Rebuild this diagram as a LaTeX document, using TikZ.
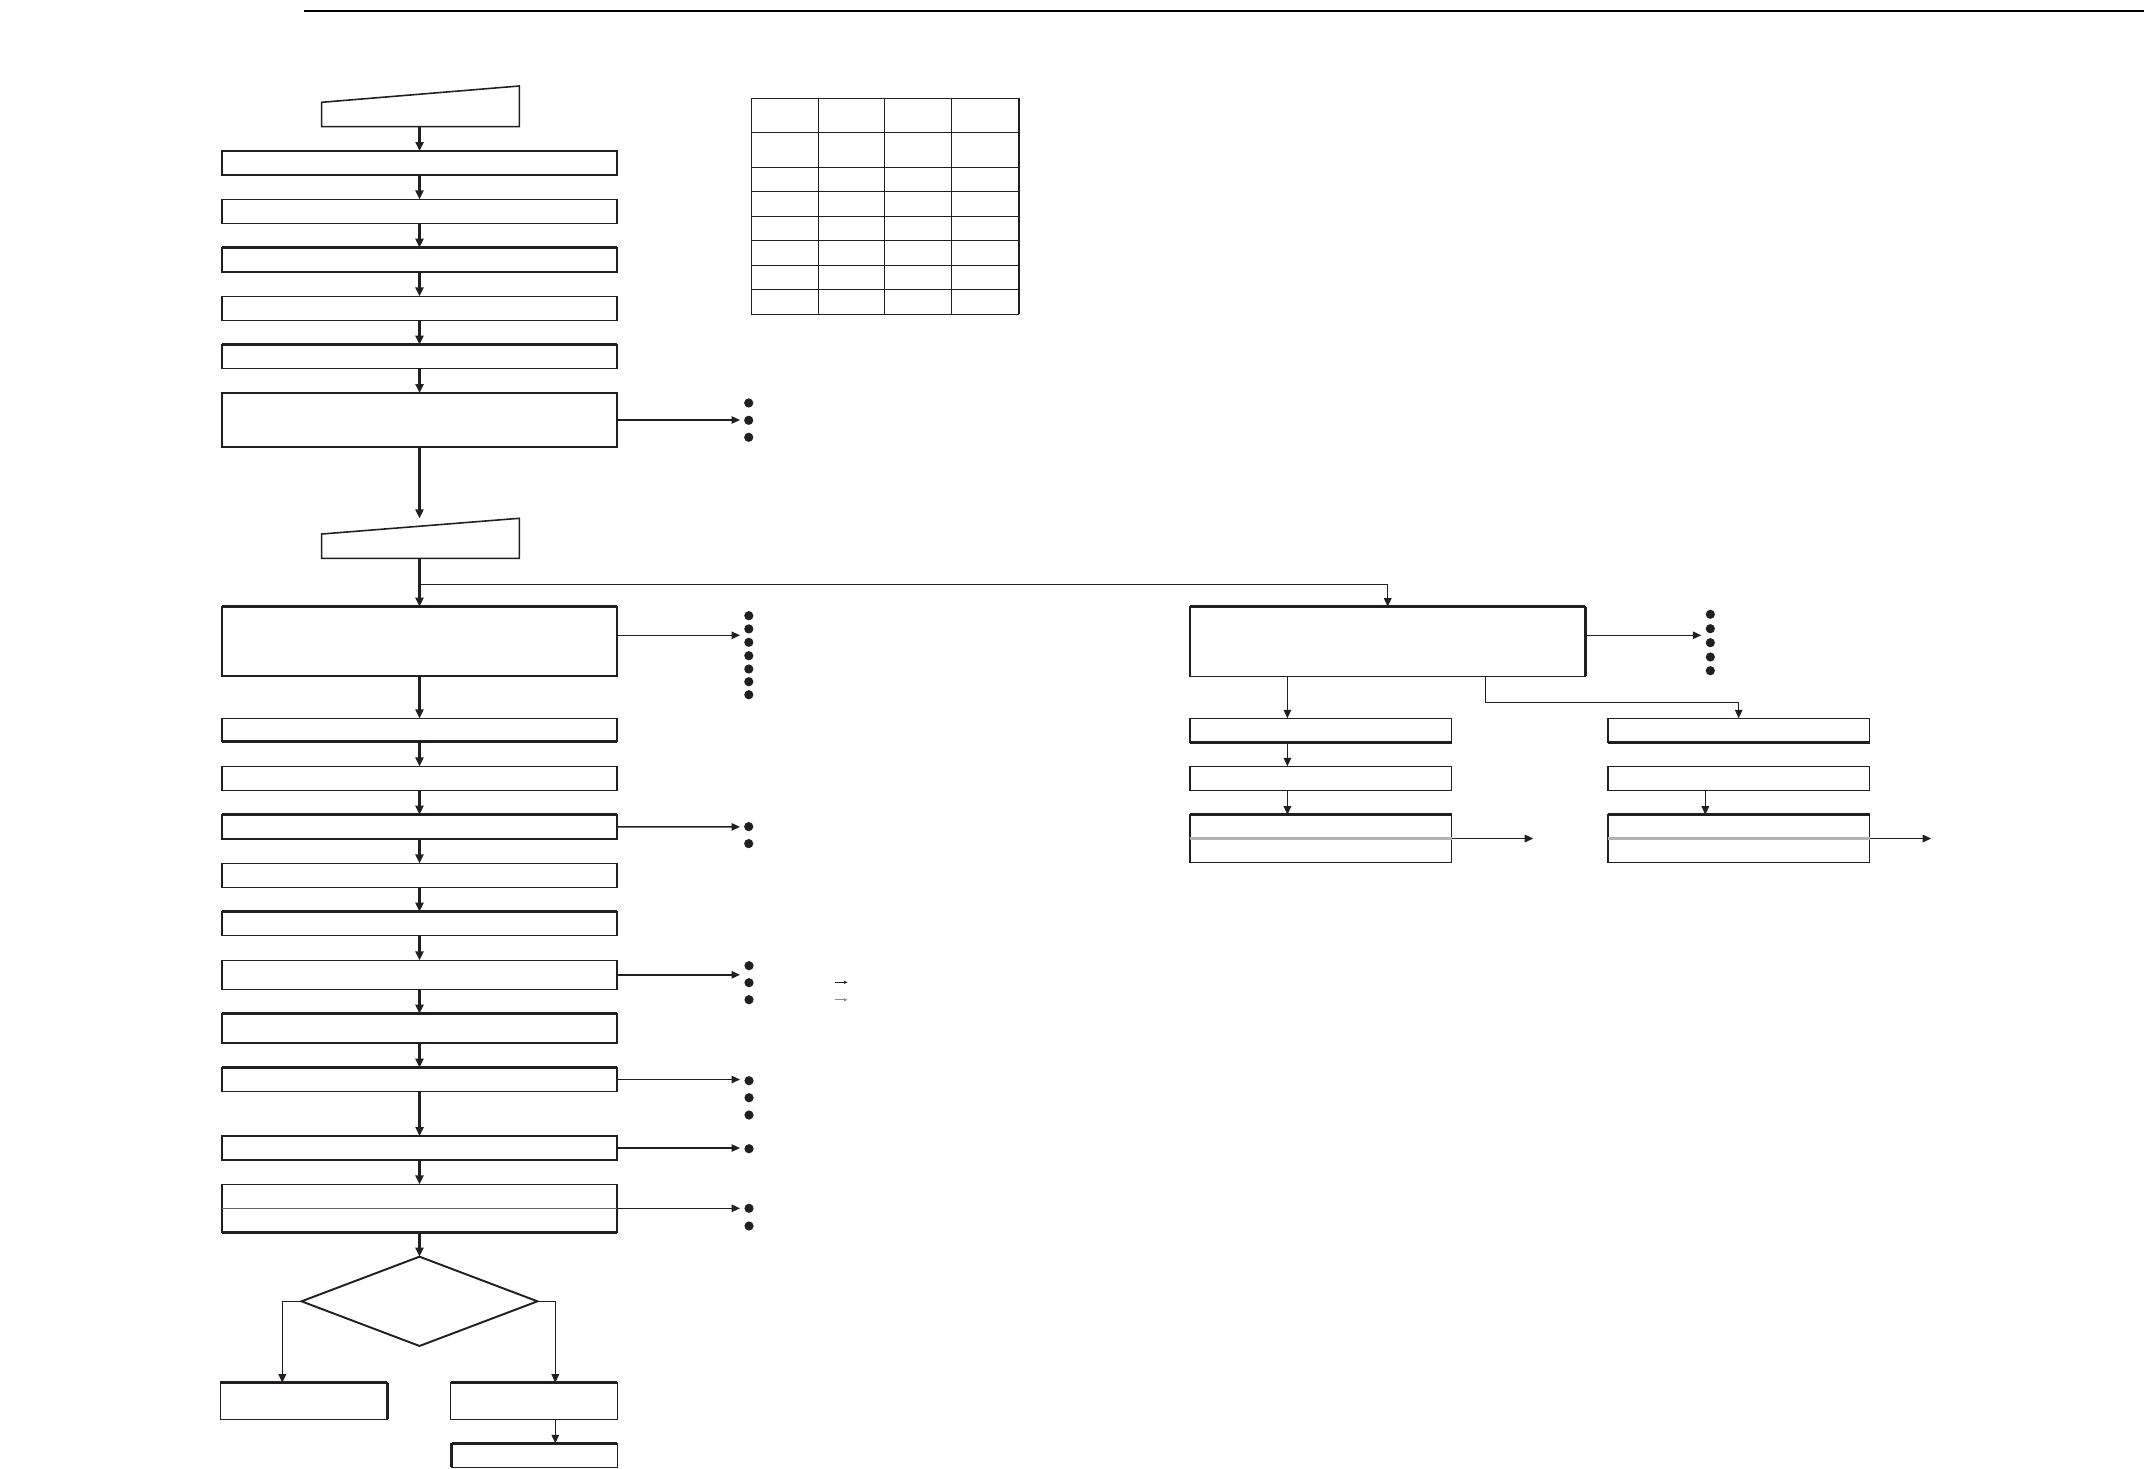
\documentclass[tikz,border=0pt]{standalone}
\usetikzlibrary{arrows.meta,shapes.geometric,calc}
\definecolor{ink}{HTML}{231F20}
\newcommand\mybox[6][]{\node[box,#1,minimum width={(#4-#2)*0.1mm},minimum height={(#5-#3)*0.1mm}] (#6) at ({(#2+#4)/2},{(#3+#5)/2}) {};}
\newcommand\tedge[1]{\draw[edge] (#1.north west) -- (#1.north east);}
\newcommand\bedge[1]{\draw[edge] (#1.south west) -- (#1.south east);}
\newcommand\redge[1]{\draw[edge] (#1.north east) -- (#1.south east);}
\newcommand\ledge[1]{\draw[edge] (#1.north west) -- (#1.south west);}
\newcommand\dotat[2]{\fill[ink] (#1,#2) circle (0.46mm);}
\begin{document}
\begin{tikzpicture}[x=0.1mm,y=-0.1mm,
  box/.style={draw=ink,line width=0.4pt,rectangle,inner sep=0pt,outer sep=0pt},
  edge/.style={draw=ink,line width=0.8pt},
  flow/.style={draw=ink,line width=0.65pt,-{Triangle[length=0.9mm,width=0.8mm]}},
  thinflow/.style={draw=ink,line width=0.4pt,-{Triangle[length=0.85mm,width=0.75mm]}},
  grid/.style={draw=ink,line width=0.45pt},
  dia/.style={draw=ink,line width=0.55pt,diamond,inner sep=0pt,outer sep=0pt}]
\useasboundingbox (0,0) rectangle (2144,1468);
% top rule
\draw[line width=0.6pt,black] (303.5,11) -- (2144,11);

% trapezoids
\draw[ink,line width=0.45pt] (321.7,102.3) -- (519.3,86) -- (519.3,126.7) -- (321.7,126.7) -- cycle;
\coordinate (tr1) at (419.5,126.7);
\draw[ink,line width=0.45pt] (321.7,534) -- (519.3,518.3) -- (519.3,558.3) -- (321.7,558.3) -- cycle;
\coordinate (tr2) at (419.5,558.3);
\coordinate (tr2in) at (419.5,518.3);

% left column boxes
\mybox{222}{151}{617}{175}{b1}
\mybox{222}{199.3}{617}{223.3}{b2}
\mybox{222}{247.7}{617}{272}{b3}
\mybox{222}{296.3}{617}{320.3}{b4}
\mybox{222}{344.7}{617}{368.3}{b5}
\mybox{222}{393}{617}{447}{b6}
\mybox{222}{606.7}{617}{676}{b7}
\mybox{222}{718.3}{617}{741.7}{b8}
\mybox{222}{766.3}{617}{790.3}{b9l}
\mybox{222}{814.7}{617}{839}{b10l}
\mybox{222}{863.3}{617}{887.3}{b11l}
\mybox{222}{911.7}{617}{935.7}{b12l}
\mybox{222}{960.3}{617}{989.3}{bA}
\mybox{222}{1013.7}{617}{1043}{bB}
\mybox{222}{1067.7}{617}{1091.3}{bC}
\mybox{222}{1136}{617}{1160}{bD}
\mybox{222}{1184.3}{617}{1232.3}{bE}
\node[dia,minimum width=23.6mm,minimum height=8.93mm] (d) at (419.5,1301.3) {};
\mybox{220.3}{1382.7}{387.3}{1419.3}{lb}
\mybox{450.7}{1382.7}{617.3}{1419.3}{rb}
\mybox{451.7}{1443.3}{617.3}{1467.3}{llb}

% right part boxes
\mybox{1190}{606.7}{1585.4}{676.3}{r9}
\mybox{1190}{718.3}{1451.6}{742.3}{r10}
\mybox{1190}{766.3}{1451.6}{790.3}{r12}
\mybox{1190}{814.7}{1451.6}{862.3}{r14}
\mybox{1607.8}{718.3}{1869.5}{742.3}{r11}
\mybox{1607.8}{766.3}{1869.5}{790.3}{r13}
\mybox{1607.8}{814.7}{1869.5}{862.3}{r15}

% gray inner lines
\draw[black!60,line width=0.45pt] (bE.west) -- (bE.east);
\draw[black!30,line width=0.6pt] (r14.west) -- (r14.east);
\draw[black!30,line width=0.6pt] (r15.west) -- (r15.east);

% thick edges
\bedge{b1}
\tedge{b3}\bedge{b3}
\tedge{b5}
\bedge{b6}
\tedge{b7}
\bedge{b8}
\tedge{b10l}\bedge{b10l}
\tedge{b12l}
\tedge{bB}\bedge{bB}
\tedge{bC}
\tedge{bD}\bedge{bD}
\bedge{bE}
\tedge{lb}\redge{lb}
\tedge{rb}
\tedge{llb}\ledge{llb}
\tedge{r9}\redge{r9}
\bedge{r10}
\bedge{r11}
\tedge{r14}
\tedge{r15}

% table
\foreach \xx in {751.3,818.3,884.3,951.3,1018.7}{
  \draw[grid] (\xx,98.3) -- (\xx,314.3);}
\foreach \yy in {98.3,132.3,167.3,191.3,216.3,240.3,265.3,289.3,314.3}{
  \draw[grid] (751.3,\yy) -- (1018.7,\yy);}

% main flow
\draw[flow] (tr1) -- (b1.north);
\foreach \a/\b in {b1/b2,b2/b3,b3/b4,b4/b5,b5/b6,b7/b8,b8/b9l,b9l/b10l,b10l/b11l,b11l/b12l,b12l/bA,bA/bB,bB/bC,bC/bD,bD/bE}{
  \draw[flow] (\a.south) -- (\b.north);}
\draw[flow] (b6.south) -- (tr2in);
\draw[flow] (tr2) -- (b7.north);
\draw[flow] (bE.south) -- (d.north);

% decision branches
\coordinate (xdl) at (282.3,0);
\coordinate (xdr) at (555.3,0);
\draw[thinflow] (d.west) -| (lb.north -| xdl);
\draw[thinflow] (d.east) -| (rb.north -| xdr);
\draw[thinflow] (rb.south -| xdr) -- (llb.north -| xdr);

% branch to right part
\coordinate (br) at (419.5,584.3);
\draw[thinflow] (br) -| (r9.north);
\coordinate (xl) at (1287.4,0);
\coordinate (xr) at (1705.3,0);
\coordinate (xb) at (1485.4,0);
\coordinate (yb) at (0,702.3);
\draw[thinflow] (r9.south -| xl) -- (r10.north -| xl);
\draw[thinflow] (r10.south -| xl) -- (r12.north -| xl);
\draw[thinflow] (r12.south -| xl) -- (r14.north -| xl);
\draw[thinflow] (r9.south -| xb) -- (xb |- yb) -| (r11.north);
\draw[thinflow] (r13.south -| xr) -- (r15.north -| xr);

% arrows to the right
\coordinate (t6) at (740,420);
\coordinate (t7) at (740,635.3);
\coordinate (t10) at (740,826.9);
\coordinate (tA) at (740,974.8);
\coordinate (tC) at (740,1079.5);
\coordinate (tD) at (740,1148);
\coordinate (tE) at (740,1208.3);
\coordinate (t9) at (1701.3,635.3);
\coordinate (t14) at (1533.2,838.5);
\coordinate (t15) at (1931.2,838.5);
\draw[thinflow] (b6.east) -- (t6);
\draw[thinflow] (b7.east |- t7) -- (t7);
\draw[thinflow] (b10l.east) -- (t10);
\draw[thinflow] (bA.east) -- (tA);
\draw[thinflow] (bC.east) -- (tC);
\draw[thinflow] (bD.east) -- (tD);
\draw[thinflow] (bE.east) -- (tE);
\draw[thinflow] (r9.east |- t9) -- (t9);
\draw[thinflow] (r14.east) -- (t14);
\draw[thinflow] (r15.east) -- (t15);

% dots
\foreach \yy in {403,420.3,437.3}{\dotat{748.7}{\yy}}
\foreach \yy in {615.7,628.9,642.3,655.7,669,681.7,694.7}{\dotat{748.8}{\yy}}
\foreach \yy in {826.6,843.6}{\dotat{748.7}{\yy}}
\foreach \yy in {965.7,982.7,999.7}{\dotat{749}{\yy}}
\foreach \yy in {1080.7,1097.7,1115}{\dotat{749}{\yy}}
\dotat{749}{1148.7}
\foreach \yy in {1208.3,1226}{\dotat{749}{\yy}}
\foreach \yy in {614.3,628.7,642.7,657,670.7}{\dotat{1710.3}{\yy}}

% small arrows
\coordinate (sa1) at (835,982.3);
\coordinate (sa1e) at (847.5,982.3);
\coordinate (sa2) at (835,999.7);
\coordinate (sa2e) at (847.5,999.7);
\draw[ink,line width=0.35pt,-{Triangle[length=0.35mm,width=0.3mm]}] (sa1) -- (sa1e);
\draw[black!45,line width=0.35pt,-{Triangle[length=0.35mm,width=0.3mm]}] (sa2) -- (sa2e);
\end{tikzpicture}
\end{document}
